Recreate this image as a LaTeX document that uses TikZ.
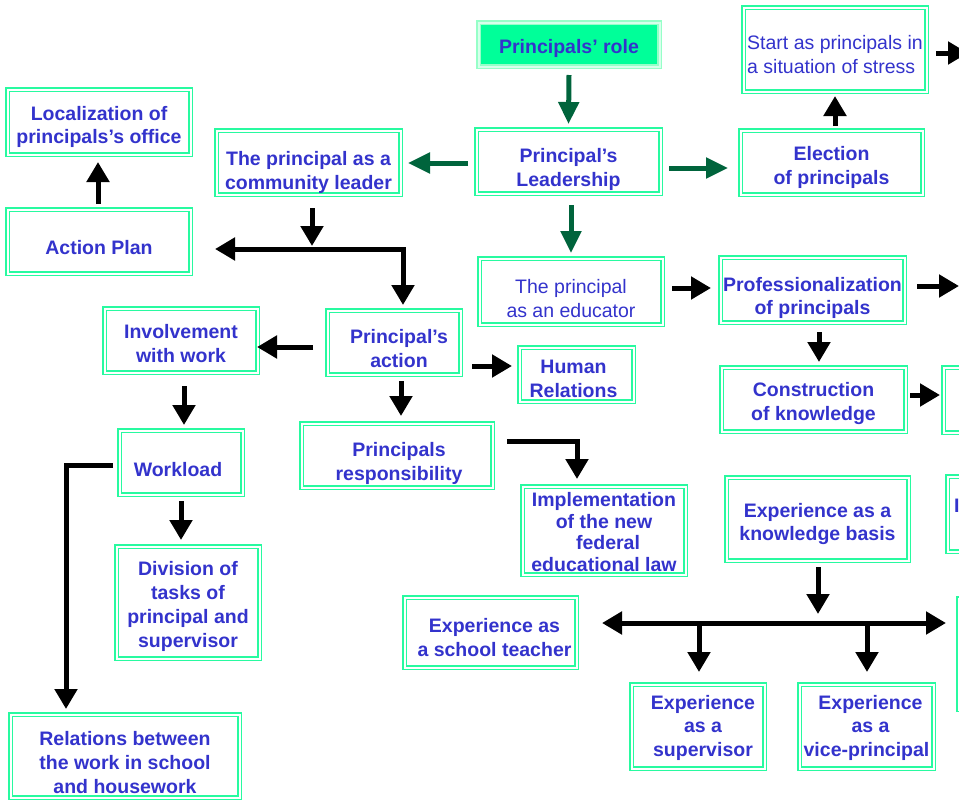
\documentclass[tikz,border=0pt]{standalone}
\usepackage{fontspec}
\setmainfont{Liberation Sans}
\usetikzlibrary{arrows.meta}
\definecolor{bgreen}{RGB}{40,250,160}
\definecolor{tblue}{RGB}{51,51,204}
\definecolor{dgreen}{RGB}{0,100,60}
\definecolor{rolefill}{RGB}{0,255,153}
\definecolor{roleline}{RGB}{150,255,200}
\definecolor{rolegap}{RGB}{215,255,235}
\newcommand\tdown[1]{\rule{0pt}{\dimexpr 14pt+#1pt*2\relax}}
\tikzset{
  box/.style={draw=bgreen, double=white, double distance=2pt, line width=1.5pt,
    fill=white, inner sep=0pt, outer sep=2.5pt, align=center, text=tblue,
    font=\fontsize{19.5}{23.5}\selectfont\bfseries},
  nbox/.style={box, font=\fontsize{19.5}{23.5}\selectfont},
  rolebox/.style={box, draw=roleline, double=rolegap, fill=rolefill},
  arr/.style={draw=black, line width=5pt, -{Triangle[width=22pt,length=20pt]}},
  barr/.style={draw=black, line width=5pt, {Triangle[width=22pt,length=20pt]}-{Triangle[width=22pt,length=20pt]}},
  garr/.style={draw=dgreen, line width=5pt, -{Triangle[width=20pt,length=22pt]}},
}
\begin{document}
\begin{tikzpicture}[x=1pt,y=-1pt]
\useasboundingbox (0,0) rectangle (959,801);
\clip (0,0) rectangle (959,801);
% boxes
\node[rolebox, minimum width=181, minimum height=44] (role) at (569,44.5) {\tdown{4}Principals’ role};
\node[nbox, align=left, minimum width=183, minimum height=84] (start) at (835,49.5) {\tdown{5}Start as principals in\\a situation of stress};
\node[box, minimum width=184, minimum height=64] (lead) at (568.5,161.5) {\tdown{8}Principal’s\\Leadership};
\node[box, minimum width=182, minimum height=64] (elect) at (831.5,162.5) {\tdown{5}Election\\of principals};
\node[box, minimum width=184, minimum height=64] (comm) at (308.5,162.5) {\tdown{10}The principal as a\\community leader};
\node[box, minimum width=183, minimum height=65] (local) at (99,122) {\tdown{5}Localization of\\principals’s office};
\node[box, minimum width=183, minimum height=64] (ap) at (99,241.5) {\tdown{6}Action Plan};
\node[nbox, minimum width=183, minimum height=66] (edu) at (571,291.5) {\tdown{7}The principal\\as an educator};
\node[box, minimum width=184, minimum height=65] (prof) at (812.5,290) {\tdown{8}Professionalization\\of principals};
\node[box, minimum width=133, minimum height=64] (pa) at (394,342.5) {\tdown{6}\hspace*{10pt}Principal’s\\\hspace*{10pt}action};
\node[box, minimum width=153, minimum height=64] (inv) at (181,340.5) {\tdown{3}Involvement\\with work};
\node[box, minimum width=114, minimum height=54] (hum) at (576.5,374.5) {\tdown{4}Human\hspace*{6pt}\\Relations\hspace*{6pt}};
\node[box, minimum width=123, minimum height=64] (wl) at (181,462.5) {\tdown{7}\hspace*{-6pt}Workload};
\node[box, minimum width=191, minimum height=64] (resp) at (397,455.5) {\tdown{8}\hspace*{4pt}Principals\\\hspace*{4pt}responsibility};
\node[box, minimum width=184, minimum height=64] (constr) at (813.5,399.5) {\tdown{4}Construction\\of knowledge};
\node[box, minimum width=184, minimum height=65] (part1) at (1035.5,400) {};
\node[box, font=\fontsize{19.5}{21.7}\selectfont\bfseries, minimum width=163, minimum height=88] (impl) at (604,530.5) {\tdown{1.5}Implementation\\of the new\\\hspace*{8pt}federal\\educational law};
\node[box, minimum width=182, minimum height=83] (expkb) at (817.5,519) {\tdown{5}Experience as a\\knowledge basis};
\node[box, align=left, text width=170, minimum width=183, minimum height=75] (part2) at (1039,514) {\tdown{3}I\\~};
\node[box, minimum width=183, minimum height=111] (part3) at (1050,654) {};
\node[box, font=\fontsize{19.5}{24}\selectfont\bfseries, minimum width=143, minimum height=112] (div) at (188,602.5) {\tdown{4}Division of\\tasks of\\principal and\\supervisor};
\node[box, minimum width=172, minimum height=70] (school) at (490.5,632.5) {\tdown{5}\hspace*{8pt}Experience as\\\hspace*{8pt}a school teacher};
\node[box, minimum width=133, minimum height=84] (sup) at (698,726.5) {\tdown{1.5}\hspace*{10pt}Experience\\\hspace*{10pt}as a\\\hspace*{10pt}supervisor};
\node[box, minimum width=134, minimum height=84] (vice) at (866.5,726.5) {\tdown{1.5}\hspace*{8pt}Experience\\\hspace*{8pt}as a\\vice-principal};
\node[box, font=\fontsize{19.5}{24}\selectfont\bfseries, minimum width=229, minimum height=83] (rel) at (125,756) {\tdown{7}Relations between\\the work in school\\and housework};
% junction coordinates
\coordinate (j1) at (403,249);
\coordinate (j2) at (818,623);
\coordinate (j3) at (577,441);
\coordinate (j4) at (66,465);
% green arrows
\draw[garr] ([yshift=-6pt]role.south) -- ([yshift=3pt]lead.north);
\draw[garr] ([xshift=-6pt]lead.west |- 0,163) -- ([xshift=5pt]comm.east |- 0,163);
\draw[garr] ([xshift=6pt]lead.east |- 0,168) -- ([xshift=-10pt]elect.west |- 0,168);
\draw[garr] ([yshift=-9pt]lead.south -| 571,0) -- ([yshift=3pt]edu.north -| 571,0);
% black arrows
\draw[arr] ([yshift=2pt]elect.north -| 835,0) -- ([yshift=-2pt]start.south -| 835,0);
\draw[arr] ([xshift=7pt]start.east |- 0,53) -- ++(32,0);
\draw[arr] ([yshift=-11pt]comm.south -| 312,0) -- (312,246);
\draw[barr] ([xshift=22pt]ap.east |- j1) -- (j1) -- ([yshift=3pt]pa.north -| j1);
\draw[arr] ([yshift=3pt]ap.north -| 98,0) -- ([yshift=-5pt]local.south -| 98,0);
\draw[arr] ([xshift=7pt]edu.east |- 0,288) -- ([xshift=-7pt]prof.west |- 0,288);
\draw[arr] ([xshift=10pt]prof.east |- 0,286) -- ++(42,0);
\draw[arr] ([yshift=-7pt]prof.south -| 819,0) -- ([yshift=3pt]constr.north -| 819,0);
\draw[arr] ([xshift=2pt]constr.east |- 0,395) -- ([xshift=-1pt]part1.west |- 0,395);
\draw[arr] ([yshift=-4pt]expkb.south -| j2) -- ([yshift=9pt]j2);
\draw[barr] ([xshift=23pt]school.east |- j2) -- ([xshift=-10pt]part3.west |- j2);
\draw[arr] (699,623) -- ([yshift=10pt]sup.north -| 699,0);
\draw[arr] (867,623) -- ([yshift=10pt]vice.north -| 867,0);
\draw[arr] ([xshift=-12pt]pa.west |- 0,347) -- ([xshift=-3pt]inv.east |- 0,347);
\draw[arr] ([xshift=9pt]pa.east |- 0,366) -- ([xshift=-5pt]hum.west |- 0,366);
\draw[arr] ([yshift=-4pt]pa.south -| 401,0) -- ([yshift=5pt]resp.north -| 401,0);
\draw[arr] ([yshift=-11pt]inv.south -| 184,0) -- ([yshift=3pt]wl.north -| 184,0);
\draw[arr] ([xshift=-4pt]wl.west |- j4) -- (j4) -- ([yshift=3pt]rel.north -| j4);
\draw[arr] ([yshift=-4pt]wl.south -| 181,0) -- ([yshift=4pt]div.north -| 181,0);
\draw[arr] ([xshift=12pt]resp.east |- j3) -- (j3) -- ([yshift=5pt]impl.north -| j3);
\end{tikzpicture}
\end{document}
